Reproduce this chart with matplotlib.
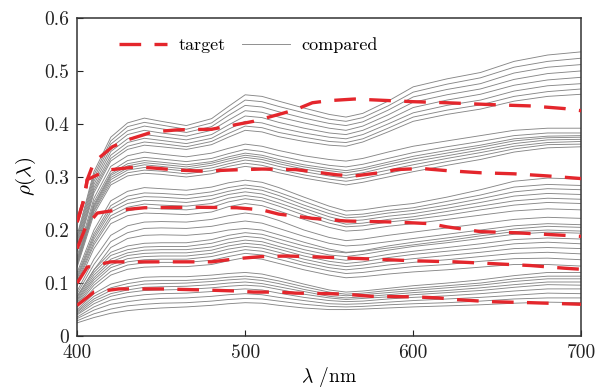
import matplotlib
matplotlib.use('Agg')
import matplotlib.pyplot as plt

plt.rcParams['font.family'] = 'serif'
plt.rcParams['font.serif'] = ['cmr10']
plt.rcParams['mathtext.fontset'] = 'cm'
plt.rcParams['axes.formatter.use_mathtext'] = True

# comprimentos de onda das curvas comparadas (nm)
wl = [400, 410, 420, 430, 440, 450, 465, 480, 490, 500, 510, 520,
      535, 550, 560, 570, 585, 600, 620, 640, 660, 680, 700]

# faixa superior
band1 = [
    [0.190, 0.310, 0.375, 0.402, 0.411, 0.405, 0.397, 0.410, 0.433, 0.455, 0.452, 0.443, 0.430, 0.418, 0.413, 0.420, 0.443, 0.470, 0.485, 0.497, 0.518, 0.530, 0.536],
    [0.186, 0.304, 0.368, 0.395, 0.403, 0.398, 0.390, 0.402, 0.424, 0.445, 0.442, 0.433, 0.421, 0.409, 0.405, 0.412, 0.434, 0.460, 0.475, 0.487, 0.507, 0.518, 0.524],
    [0.181, 0.298, 0.362, 0.387, 0.396, 0.391, 0.384, 0.395, 0.416, 0.435, 0.432, 0.423, 0.411, 0.401, 0.397, 0.404, 0.426, 0.451, 0.465, 0.476, 0.496, 0.507, 0.512],
    [0.177, 0.292, 0.355, 0.380, 0.388, 0.383, 0.377, 0.388, 0.407, 0.425, 0.422, 0.413, 0.402, 0.392, 0.388, 0.396, 0.417, 0.441, 0.455, 0.466, 0.484, 0.495, 0.500],
    [0.172, 0.286, 0.348, 0.372, 0.380, 0.376, 0.370, 0.380, 0.398, 0.415, 0.412, 0.403, 0.392, 0.383, 0.380, 0.388, 0.408, 0.431, 0.445, 0.456, 0.473, 0.483, 0.488],
    [0.168, 0.280, 0.341, 0.365, 0.373, 0.369, 0.363, 0.373, 0.390, 0.405, 0.402, 0.393, 0.383, 0.375, 0.372, 0.380, 0.400, 0.421, 0.435, 0.445, 0.462, 0.472, 0.476],
    [0.164, 0.275, 0.335, 0.358, 0.366, 0.363, 0.357, 0.367, 0.382, 0.396, 0.393, 0.384, 0.375, 0.367, 0.365, 0.372, 0.392, 0.413, 0.426, 0.436, 0.452, 0.461, 0.466],
    [0.160, 0.270, 0.330, 0.352, 0.360, 0.357, 0.352, 0.361, 0.375, 0.388, 0.385, 0.376, 0.367, 0.360, 0.358, 0.366, 0.385, 0.405, 0.418, 0.428, 0.443, 0.452, 0.456],
]

band2 = [
    [0.150, 0.260, 0.320, 0.340, 0.347, 0.343, 0.338, 0.345, 0.354, 0.362, 0.358, 0.350, 0.340, 0.333, 0.330, 0.335, 0.347, 0.358, 0.368, 0.378, 0.388, 0.392, 0.392],
    [0.145, 0.253, 0.311, 0.331, 0.337, 0.334, 0.329, 0.335, 0.344, 0.352, 0.348, 0.340, 0.330, 0.322, 0.319, 0.324, 0.335, 0.346, 0.357, 0.367, 0.378, 0.383, 0.383],
    [0.142, 0.248, 0.306, 0.325, 0.331, 0.328, 0.323, 0.329, 0.338, 0.345, 0.341, 0.333, 0.323, 0.316, 0.312, 0.317, 0.328, 0.339, 0.350, 0.360, 0.372, 0.377, 0.378],
    [0.140, 0.245, 0.303, 0.321, 0.327, 0.324, 0.319, 0.326, 0.334, 0.341, 0.337, 0.329, 0.319, 0.312, 0.308, 0.313, 0.324, 0.334, 0.345, 0.356, 0.368, 0.374, 0.375],
    [0.138, 0.242, 0.299, 0.317, 0.323, 0.320, 0.315, 0.322, 0.330, 0.337, 0.333, 0.325, 0.315, 0.307, 0.303, 0.308, 0.319, 0.329, 0.340, 0.351, 0.363, 0.370, 0.371],
    [0.136, 0.238, 0.295, 0.313, 0.318, 0.316, 0.311, 0.317, 0.325, 0.332, 0.328, 0.320, 0.310, 0.302, 0.298, 0.303, 0.313, 0.323, 0.335, 0.346, 0.358, 0.365, 0.367],
    [0.133, 0.235, 0.290, 0.308, 0.313, 0.311, 0.306, 0.312, 0.320, 0.326, 0.322, 0.314, 0.304, 0.296, 0.292, 0.297, 0.307, 0.317, 0.329, 0.340, 0.353, 0.361, 0.362],
    [0.130, 0.230, 0.285, 0.302, 0.307, 0.305, 0.300, 0.306, 0.314, 0.320, 0.316, 0.308, 0.298, 0.290, 0.285, 0.290, 0.300, 0.310, 0.322, 0.333, 0.347, 0.355, 0.357],
]

band3 = [
    [0.120, 0.200, 0.255, 0.273, 0.280, 0.278, 0.275, 0.281, 0.289, 0.294, 0.290, 0.280, 0.262, 0.245, 0.236, 0.238, 0.245, 0.250, 0.262, 0.276, 0.292, 0.298, 0.296],
    [0.115, 0.193, 0.246, 0.264, 0.270, 0.269, 0.266, 0.272, 0.280, 0.285, 0.281, 0.271, 0.254, 0.237, 0.228, 0.230, 0.237, 0.242, 0.254, 0.266, 0.281, 0.286, 0.284],
    [0.111, 0.188, 0.240, 0.257, 0.263, 0.262, 0.259, 0.265, 0.273, 0.279, 0.275, 0.265, 0.247, 0.231, 0.223, 0.225, 0.232, 0.237, 0.247, 0.259, 0.272, 0.278, 0.276],
    [0.108, 0.183, 0.234, 0.250, 0.256, 0.255, 0.252, 0.258, 0.267, 0.272, 0.268, 0.258, 0.241, 0.225, 0.217, 0.219, 0.226, 0.231, 0.241, 0.252, 0.264, 0.269, 0.267],
    [0.104, 0.177, 0.227, 0.243, 0.249, 0.247, 0.245, 0.250, 0.260, 0.265, 0.261, 0.251, 0.235, 0.219, 0.211, 0.213, 0.220, 0.225, 0.235, 0.245, 0.255, 0.260, 0.258],
    [0.100, 0.172, 0.221, 0.236, 0.242, 0.240, 0.238, 0.243, 0.253, 0.259, 0.255, 0.245, 0.228, 0.213, 0.206, 0.208, 0.215, 0.220, 0.228, 0.238, 0.247, 0.252, 0.250],
    [0.095, 0.165, 0.212, 0.227, 0.232, 0.231, 0.229, 0.234, 0.244, 0.250, 0.246, 0.236, 0.220, 0.205, 0.198, 0.200, 0.207, 0.212, 0.220, 0.228, 0.236, 0.240, 0.238],
]

sparse = [
    [0.085, 0.145, 0.190, 0.208, 0.215, 0.216, 0.215, 0.220, 0.227, 0.232, 0.228, 0.218, 0.200, 0.186, 0.180, 0.183, 0.190, 0.196, 0.204, 0.212, 0.220, 0.224, 0.222],
    [0.080, 0.135, 0.178, 0.195, 0.203, 0.204, 0.203, 0.207, 0.213, 0.217, 0.213, 0.203, 0.188, 0.175, 0.170, 0.172, 0.178, 0.184, 0.192, 0.200, 0.208, 0.212, 0.210],
    [0.075, 0.125, 0.167, 0.184, 0.190, 0.191, 0.190, 0.194, 0.200, 0.203, 0.200, 0.191, 0.177, 0.164, 0.158, 0.160, 0.166, 0.172, 0.180, 0.189, 0.197, 0.200, 0.198],
]

band4 = [
    [0.075, 0.125, 0.158, 0.170, 0.175, 0.176, 0.176, 0.182, 0.190, 0.195, 0.192, 0.183, 0.170, 0.160, 0.157, 0.161, 0.170, 0.177, 0.185, 0.193, 0.202, 0.207, 0.205],
    [0.072, 0.120, 0.152, 0.163, 0.168, 0.169, 0.169, 0.175, 0.183, 0.188, 0.185, 0.176, 0.163, 0.153, 0.150, 0.154, 0.162, 0.169, 0.176, 0.184, 0.192, 0.196, 0.194],
    [0.069, 0.115, 0.145, 0.157, 0.162, 0.163, 0.163, 0.168, 0.176, 0.181, 0.178, 0.169, 0.157, 0.147, 0.143, 0.146, 0.154, 0.160, 0.167, 0.174, 0.182, 0.185, 0.183],
    [0.067, 0.110, 0.140, 0.152, 0.156, 0.157, 0.157, 0.162, 0.170, 0.175, 0.172, 0.164, 0.151, 0.141, 0.137, 0.140, 0.148, 0.154, 0.160, 0.166, 0.174, 0.177, 0.174],
    [0.064, 0.106, 0.134, 0.146, 0.150, 0.151, 0.151, 0.156, 0.164, 0.169, 0.166, 0.158, 0.145, 0.135, 0.131, 0.134, 0.141, 0.146, 0.152, 0.158, 0.165, 0.167, 0.165],
    [0.061, 0.101, 0.129, 0.140, 0.144, 0.145, 0.145, 0.150, 0.157, 0.163, 0.160, 0.152, 0.139, 0.129, 0.125, 0.128, 0.134, 0.139, 0.144, 0.150, 0.156, 0.158, 0.155],
    [0.058, 0.096, 0.122, 0.134, 0.138, 0.139, 0.139, 0.143, 0.150, 0.156, 0.153, 0.145, 0.133, 0.123, 0.118, 0.120, 0.126, 0.131, 0.135, 0.141, 0.146, 0.147, 0.144],
    [0.055, 0.090, 0.115, 0.126, 0.130, 0.131, 0.131, 0.135, 0.142, 0.148, 0.145, 0.137, 0.125, 0.115, 0.110, 0.112, 0.117, 0.121, 0.125, 0.130, 0.135, 0.135, 0.132],
]

band5 = [
    [0.050, 0.080, 0.098, 0.106, 0.111, 0.112, 0.112, 0.115, 0.118, 0.120, 0.117, 0.110, 0.098, 0.087, 0.083, 0.085, 0.090, 0.095, 0.100, 0.106, 0.114, 0.120, 0.120],
    [0.047, 0.075, 0.091, 0.099, 0.104, 0.105, 0.105, 0.108, 0.111, 0.113, 0.110, 0.104, 0.093, 0.083, 0.079, 0.081, 0.086, 0.090, 0.095, 0.100, 0.108, 0.113, 0.113],
    [0.045, 0.070, 0.086, 0.093, 0.098, 0.099, 0.100, 0.103, 0.106, 0.108, 0.105, 0.099, 0.088, 0.079, 0.076, 0.078, 0.082, 0.086, 0.091, 0.096, 0.103, 0.108, 0.108],
    [0.042, 0.066, 0.080, 0.087, 0.092, 0.093, 0.094, 0.097, 0.100, 0.102, 0.099, 0.093, 0.084, 0.075, 0.072, 0.074, 0.078, 0.082, 0.086, 0.091, 0.097, 0.102, 0.102],
    [0.040, 0.061, 0.075, 0.082, 0.086, 0.087, 0.088, 0.091, 0.094, 0.096, 0.094, 0.088, 0.079, 0.072, 0.069, 0.071, 0.074, 0.078, 0.082, 0.086, 0.092, 0.097, 0.096],
    [0.036, 0.055, 0.068, 0.074, 0.078, 0.080, 0.081, 0.084, 0.087, 0.089, 0.087, 0.081, 0.073, 0.067, 0.065, 0.066, 0.070, 0.073, 0.076, 0.080, 0.085, 0.089, 0.089],
    [0.033, 0.049, 0.060, 0.065, 0.069, 0.071, 0.072, 0.075, 0.078, 0.080, 0.078, 0.073, 0.067, 0.061, 0.060, 0.061, 0.064, 0.067, 0.070, 0.073, 0.077, 0.081, 0.080],
    [0.029, 0.042, 0.051, 0.057, 0.060, 0.062, 0.063, 0.066, 0.069, 0.071, 0.070, 0.066, 0.060, 0.056, 0.055, 0.056, 0.059, 0.061, 0.063, 0.066, 0.070, 0.072, 0.072],
    [0.025, 0.035, 0.043, 0.048, 0.051, 0.053, 0.055, 0.058, 0.061, 0.063, 0.062, 0.058, 0.053, 0.050, 0.050, 0.051, 0.053, 0.055, 0.057, 0.059, 0.062, 0.064, 0.063],
]

# curvas alvo (tracejadas)
wl_a = [400, 404, 406, 410, 421, 430, 445, 460, 480, 495, 505, 520, 530, 540, 550, 565, 600, 620, 650, 670, 690, 700]
alvo_a = [0.215, 0.257, 0.295, 0.328, 0.357, 0.370, 0.385, 0.389, 0.390, 0.399, 0.405, 0.418, 0.427, 0.440, 0.444, 0.447, 0.442, 0.440, 0.436, 0.434, 0.429, 0.425]
wl_b = [400, 404, 406, 418, 435, 445, 460, 475, 490, 510, 530, 540, 555, 565, 580, 590, 605, 620, 640, 660, 680, 700]
alvo_b = [0.215, 0.257, 0.295, 0.313, 0.319, 0.317, 0.313, 0.311, 0.313, 0.315, 0.314, 0.310, 0.304, 0.302, 0.308, 0.314, 0.316, 0.312, 0.308, 0.306, 0.302, 0.297]
wl_c = [400, 405, 412, 420, 440, 470, 495, 510, 520, 540, 560, 590, 610, 620, 640, 660, 690, 700]
alvo_c = [0.165, 0.205, 0.232, 0.236, 0.242, 0.243, 0.242, 0.238, 0.230, 0.222, 0.217, 0.215, 0.212, 0.206, 0.197, 0.195, 0.190, 0.188]
wl_d = [400, 406, 420, 480, 495, 510, 525, 545, 570, 600, 625, 645, 670, 690, 700]
alvo_d = [0.100, 0.130, 0.140, 0.140, 0.146, 0.150, 0.151, 0.149, 0.146, 0.142, 0.140, 0.137, 0.133, 0.128, 0.126]
wl_e = [400, 410, 425, 450, 475, 495, 505, 520, 530, 550, 560, 575, 600, 615, 625, 645, 670, 700]
alvo_e = [0.058, 0.083, 0.089, 0.089, 0.087, 0.085, 0.083, 0.083, 0.081, 0.080, 0.079, 0.075, 0.074, 0.072, 0.069, 0.065, 0.063, 0.060]

xticks = [400, 500, 600, 700]
yticks = [0, 0.1, 0.2, 0.3, 0.4, 0.5, 0.6]
ytick_labels = ['0', '0.1', '0.2', '0.3', '0.4', '0.5', '0.6']

fig = plt.figure(figsize=(5.98, 3.89), dpi=100)
ax = fig.add_axes([0.129, 0.136, 0.843, 0.818])

cinza = '#878787'
vermelho = '#e4262c'

primeira = True
for grupo in [band1, band2, band3, sparse, band4, band5]:
    for curva in grupo:
        ax.plot(wl, curva, color=cinza, lw=0.65, label='compared' if primeira else None)
        primeira = False

alvos = [(wl_a, alvo_a), (wl_b, alvo_b), (wl_c, alvo_c), (wl_d, alvo_d), (wl_e, alvo_e)]
for i, (x, y) in enumerate(alvos):
    ax.plot(x, y, color=vermelho, lw=2.4, dashes=(6.5, 4), solid_capstyle='butt',
            label='target' if i == 0 else None, zorder=3)

ax.set_xlim(400, 700)
ax.set_ylim(0, 0.6)
ax.set_xticks(xticks)
ax.set_xticklabels([str(t) for t in xticks])
ax.set_yticks(yticks)
ax.set_yticklabels(ytick_labels)
ax.tick_params(direction='in', length=4, width=0.8, labelsize=14, colors='#222222', pad=6)
for s in ax.spines.values():
    s.set_linewidth(1.1)
    s.set_color('#333333')

ax.set_xlabel(r'$\lambda$ /nm', fontsize=14, labelpad=2)
ax.set_ylabel(r'$\rho(\lambda)$', fontsize=15, labelpad=4)

h, l = ax.get_legend_handles_labels()
ordem = [l.index('target'), l.index('compared')]
ax.legend([h[i] for i in ordem], [l[i] for i in ordem], loc='upper left',
          bbox_to_anchor=(0.05, 0.99), ncol=2, frameon=False, fontsize=13,
          handlelength=2.7, columnspacing=0.9, handletextpad=0.6)

fig.savefig('out.png', dpi=100)
